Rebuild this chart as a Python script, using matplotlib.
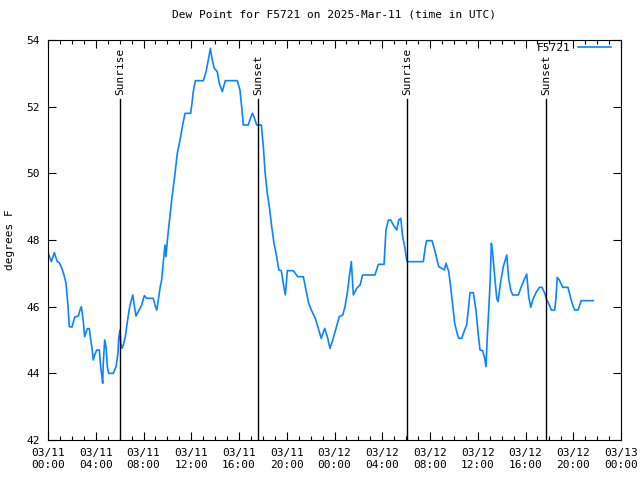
#Import_Library
import numpy as np
import pandas as pd
import matplotlib
matplotlib.use('Agg')
import matplotlib.pyplot as plt
import matplotlib.dates as mdates

#Data: hours since 2025-03-11 00:00 UTC, dew point in F
hours = [0.00, 0.28, 0.53, 0.78, 0.95, 1.15, 1.34, 1.51, 1.57, 1.68, 1.78, 2.01, 2.24, 2.54, 2.68, 2.79, 2.85,
         2.96, 3.07, 3.16, 3.29, 3.46, 3.58, 3.69, 3.79, 3.91, 4.08, 4.30, 4.41, 4.52, 4.58, 4.63, 4.75, 4.86,
         4.97, 5.08, 5.47, 5.70, 5.86, 5.92, 6.03, 6.09, 6.20, 6.31, 6.48, 6.59, 6.73, 6.87, 7.10, 7.20, 7.37,
         7.56, 7.85, 8.07, 8.27, 8.82, 8.96, 9.11, 9.24, 9.38, 9.52, 9.66, 9.80, 9.88, 9.99, 10.09, 10.36,
         10.64, 10.83, 11.06, 11.28, 11.48, 11.95, 12.06, 12.17, 12.34, 13.01, 13.24, 13.43, 13.60, 13.76,
         13.93, 14.18, 14.35, 14.60, 14.85, 15.86, 16.08, 16.25, 16.36, 16.78, 16.95, 17.13, 17.30, 17.48,
         17.87, 18.04, 18.18, 18.37, 18.54, 18.74, 18.93, 19.16, 19.33, 19.54, 19.71, 19.88, 20.05, 20.55,
         20.92, 21.39, 21.61, 21.84, 22.06, 22.39, 22.68, 22.89, 23.18, 23.40, 23.62, 23.85, 24.13, 24.40,
         24.69, 24.88, 25.07, 25.24, 25.41, 25.58, 25.86, 26.14, 26.36, 27.39, 27.67, 28.15, 28.31, 28.51,
         28.71, 28.93, 29.21, 29.38, 29.55, 29.71, 29.88, 30.05, 30.10, 31.44, 31.61, 31.72, 32.17, 32.39,
         32.56, 32.73, 32.98, 33.20, 33.34, 33.57, 33.73, 33.90, 34.07, 34.24, 34.40, 34.66, 34.85, 35.07,
         35.21, 35.35, 35.63, 35.85, 36.02, 36.19, 36.41, 36.58, 36.69, 36.80, 36.92, 37.03, 37.14, 37.25,
         37.42, 37.59, 37.70, 37.92, 38.14, 38.43, 38.59, 38.76, 38.93, 39.40, 39.60, 39.82, 40.10, 40.27,
         40.44, 40.60, 40.88, 41.16, 41.38, 41.61, 41.78, 42.00, 42.16, 42.45, 42.56, 42.66, 42.83, 43.12,
         43.56, 43.79, 43.95, 44.12, 44.40, 44.67, 45.68]
dewpt = [47.62, 47.35, 47.62, 47.35, 47.32, 47.16, 46.95, 46.70, 46.45, 46.00, 45.40, 45.39, 45.69, 45.72, 45.90,
         46.00, 45.85, 45.55, 45.10, 45.20, 45.34, 45.34, 45.00, 44.76, 44.40, 44.55, 44.70, 44.70, 44.20,
         43.90, 43.70, 44.30, 45.00, 44.80, 44.20, 44.00, 44.00, 44.20, 44.60, 45.05, 45.30, 44.90, 44.75,
         44.85, 45.10, 45.40, 45.75, 46.05, 46.35, 46.10, 45.72, 45.85, 46.05, 46.33, 46.25, 46.25, 46.05,
         45.90, 46.20, 46.55, 46.80, 47.35, 47.85, 47.50, 47.95, 48.30, 49.20, 50.00, 50.60, 51.00, 51.45,
         51.80, 51.80, 52.10, 52.45, 52.78, 52.78, 53.05, 53.40, 53.75, 53.40, 53.15, 53.05, 52.70, 52.45,
         52.78, 52.78, 52.50, 51.90, 51.45, 51.45, 51.65, 51.80, 51.65, 51.45, 51.45, 50.80, 50.05, 49.40,
         49.00, 48.40, 47.90, 47.50, 47.10, 47.08, 46.70, 46.35, 47.08, 47.08, 46.90, 46.90, 46.50, 46.10,
         45.90, 45.65, 45.30, 45.05, 45.35, 45.10, 44.75, 45.00, 45.35, 45.70, 45.75, 46.00, 46.40, 46.90,
         47.35, 46.35, 46.55, 46.65, 46.95, 46.95, 47.27, 47.27, 48.30, 48.60, 48.60, 48.45, 48.30, 48.60,
         48.65, 48.10, 47.80, 47.40, 47.35, 47.35, 47.80, 47.98, 47.98, 47.70, 47.45, 47.20, 47.15, 47.10,
         47.30, 47.05, 46.60, 46.05, 45.50, 45.25, 45.05, 45.05, 45.25, 45.45, 45.90, 46.42, 46.42, 45.90,
         45.25, 44.70, 44.68, 44.45, 44.20, 45.10, 45.90, 46.70, 47.90, 47.60, 46.90, 46.25, 46.15, 46.75,
         47.20, 47.55, 46.85, 46.50, 46.35, 46.35, 46.55, 46.75, 46.98, 46.30, 45.98, 46.20, 46.42, 46.58,
         46.58, 46.40, 46.20, 46.05, 45.90, 45.90, 46.30, 46.88, 46.80, 46.58, 46.58, 46.25, 46.05, 45.90,
         45.90, 46.18, 46.18]

#Sunrise / sunset markers (hours since start)
sun_hours = [6.03, 17.59, 30.07, 41.72]
sun_labels = ['Sunrise', 'Sunset', 'Sunrise', 'Sunset']

start = pd.Timestamp('2025-03-11 00:00')
times = start + pd.to_timedelta(hours, unit='h')
sun_times = start + pd.to_timedelta(sun_hours, unit='h')

plt.rcParams['font.family'] = ['DejaVu Sans Mono']
plt.rcParams['font.size'] = 8

fig = plt.figure(figsize=(6.4, 4.8), dpi=100)
ax = fig.add_axes([48/640, 40/480, 573/640, 400/480])

ax.plot(times, dewpt, color='#0a84ff', linewidth=1.2, label='F5721')

#Sunrise/sunset lines with labels
for t, lab in zip(sun_times, sun_labels):
    ax.plot([t, t], [42, 52.23], color='black', linewidth=1.0)
    ax.text(t, 52.35, lab, rotation=90, ha='center', va='bottom', fontsize=8)

ax.set_xlim(start, start + pd.Timedelta(hours=48))
ax.set_ylim(42, 54)
ax.set_yticks(np.arange(42, 55, 2))

ax.xaxis.set_major_locator(mdates.HourLocator(byhour=range(0, 24, 4)))
ax.xaxis.set_minor_locator(mdates.HourLocator())
ax.xaxis.set_major_formatter(mdates.DateFormatter('%m/%d\n%H:%M'))

ax.tick_params(which='both', direction='in', top=True, right=True, width=0.8)
ax.tick_params(which='major', length=6, pad=6)
ax.tick_params(which='minor', length=3)
for s in ax.spines.values():
    s.set_linewidth(0.8)

ax.set_title('Dew Point for F5721 on 2025-Mar-11 (time in UTC)', fontsize=8, pad=16)
ax.set_ylabel('degrees F', fontsize=8, labelpad=8)

#legend just under the top frame, like gnuplot's key
leg = ax.legend(loc='center right', bbox_to_anchor=(0.9825, 0.98), frameon=False, markerfirst=False,
                handlelength=3.0, borderpad=0, borderaxespad=0, handletextpad=0.6, fontsize=8)

fig.savefig('out.png', dpi=100)
